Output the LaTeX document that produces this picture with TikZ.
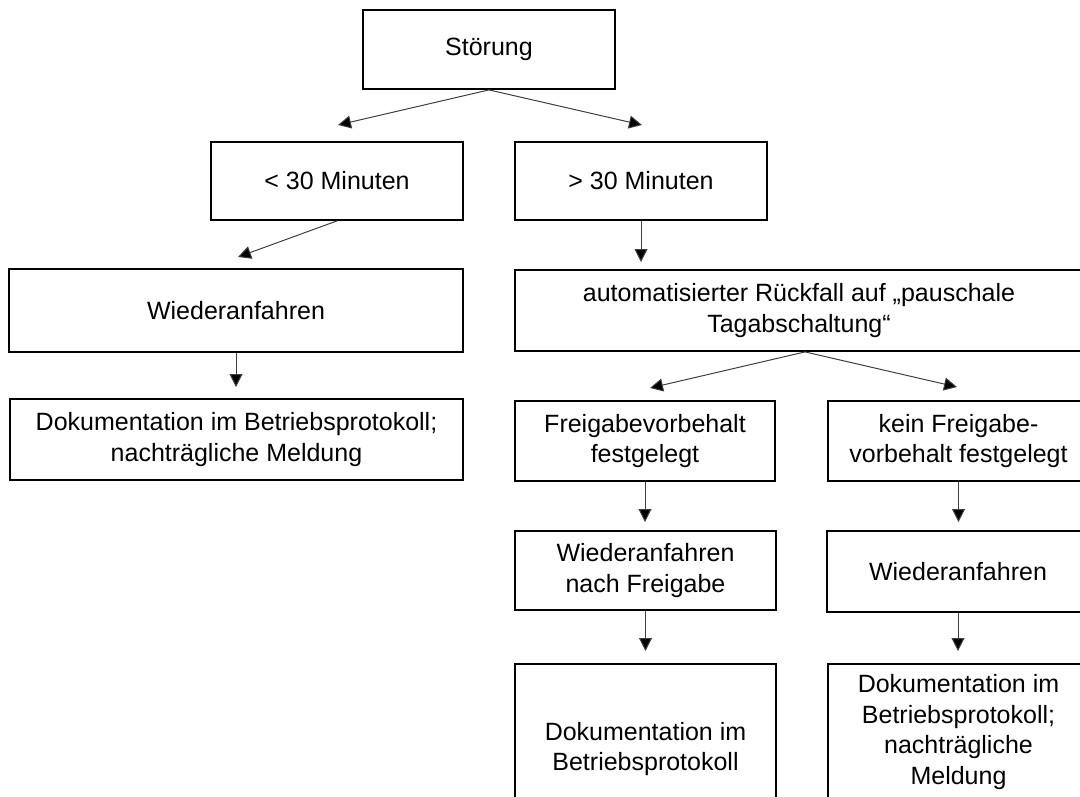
\documentclass[tikz,border=0pt]{standalone}
\usepackage{fontspec}
\setmainfont{Liberation Sans}
\usetikzlibrary{arrows.meta}
\begin{document}
\begin{tikzpicture}[x=1pt,y=-1pt,
  box/.style={draw=black, line width=1.8pt, inner sep=0pt, align=center,
    font=\fontsize{25}{30.5}\selectfont},
  conn/.style={draw=black!75, line width=1pt,
    -{Triangle[length=13pt,width=13pt,fill=black]}}]
\path[use as bounding box, fill=white] (0,0) rectangle (1080,796);
\clip (0,0) rectangle (1080,796);

\node[box, minimum width=252pt, minimum height=79pt] (stoer) at (489,49.5) {Störung};
\node[box, minimum width=252pt, minimum height=78pt] (lt30) at (337,181) {< 30 Minuten};
\node[box, minimum width=252pt, minimum height=78pt] (gt30) at (641,181) {> 30 Minuten};
\node[box, minimum width=454pt, minimum height=83pt] (wa1) at (236,310.5) {Wiederanfahren};
\node[box, minimum width=453pt, minimum height=81pt] (doc1) at (236.5,439.5) {Dokumentation im Betriebsprotokoll;\\nachträgliche Meldung};
\node[box, minimum width=568pt, minimum height=81pt] (auto) at (799,310.5) {automatisierter Rückfall auf „pauschale\\Tagabschaltung“};
\node[box, minimum width=260pt, minimum height=80pt] (frei) at (645,441) {Freigabevorbehalt\\festgelegt};
\node[box, minimum width=261pt, minimum height=80pt] (kein) at (958.5,441) {kein Freigabe-\\vorbehalt festgelegt};
\node[box, minimum width=261pt, minimum height=79pt] (wa2) at (645.5,570.5) {Wiederanfahren\\nach Freigabe};
\node[box, minimum width=262pt, minimum height=81pt] (wa3) at (958,571.5) {Wiederanfahren};
\node[box, minimum width=261pt, minimum height=170pt] (doc2) at (645.5,749) {Dokumentation im\\Betriebsprotokoll};
\node[box, minimum width=261pt, minimum height=136pt] (doc3) at (958.5,732) {Dokumentation im\\Betriebsprotokoll;\\nachträgliche\\Meldung};

\coordinate (tS1) at (338,125);
\coordinate (tS2) at (642,125);
\coordinate (tL) at (238,257);
\coordinate (tG) at (641,262);
\coordinate (tW1) at (236,387);
\coordinate (tA1) at (650,388);
\coordinate (tA2) at (957,387);
\coordinate (tF) at (645,522);
\coordinate (tK) at (958.5,522);
\coordinate (tW2) at (645.5,651);
\coordinate (tW3) at (958,651);

\draw[conn] (stoer.south) -- (tS1);
\draw[conn] (stoer.south) -- (tS2);
\draw[conn] (lt30.south) -- (tL);
\draw[conn] (gt30.south) -- (tG);
\draw[conn] (wa1.south) -- (tW1);
\draw[conn] ([xshift=6pt]auto.south) -- (tA1);
\draw[conn] ([xshift=6pt]auto.south) -- (tA2);
\draw[conn] (frei.south) -- (tF);
\draw[conn] (kein.south) -- (tK);
\draw[conn] (wa2.south) -- (tW2);
\draw[conn] (wa3.south) -- (tW3);
\end{tikzpicture}
\end{document}
